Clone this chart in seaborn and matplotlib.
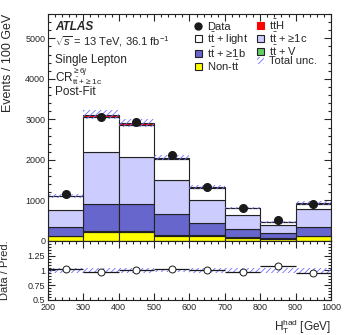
import numpy as np
import pandas as pd
import matplotlib
matplotlib.use("Agg")
import matplotlib.pyplot as plt
from matplotlib.patches import Patch
from matplotlib.lines import Line2D
from matplotlib.ticker import MultipleLocator, FixedLocator, FormatStrFormatter
import seaborn as sns

# H_T^had bins (GeV), last bin includes overflow
bin_edges = [200, 300, 400, 500, 600, 700, 800, 900, 1000]

# post-fit yields per process
non_tt = [120, 210, 225, 130, 130, 80, 60, 120]
tt_v = [15, 25, 25, 20, 15, 10, 6, 12]
tt_1b = [218, 668, 654, 507, 306, 198, 123, 221]
tt_1c = [410, 1297, 1173, 837, 559, 352, 197, 435]
tt_light = [337, 871, 789, 528, 300, 168, 82, 133]
tt_h = [15, 40, 40, 30, 20, 12, 8, 15]

data = [1150, 3050, 2925, 2110, 1330, 805, 510, 903]
# relative total uncertainty per bin
total_unc = [0.045, 0.035, 0.035, 0.03, 0.035, 0.035, 0.05, 0.045]

# bottom of the stack first
process_names = ["Non-tt", "ttV", "tt1b", "tt1c", "ttlight", "ttH"]
process_colors = {"Non-tt": "#ffff00", "ttV": "#66cc66", "tt1b": "#6666cc",
                  "tt1c": "#ccccff", "ttlight": "#ffffff", "ttH": "#ff0000"}

sns.set_theme(style="ticks")
plt.rcParams["font.family"] = ["Liberation Sans", "DejaVu Sans"]
plt.rcParams["mathtext.fontset"] = "custom"
plt.rcParams["mathtext.rm"] = "Liberation Sans"
plt.rcParams["mathtext.it"] = "Liberation Sans:italic"
plt.rcParams["mathtext.bf"] = "Liberation Sans:bold"
plt.rcParams["hatch.linewidth"] = 0.6

centers = [(a + b) / 2 for a, b in zip(bin_edges[:-1], bin_edges[1:])]
rows = []
for name, vals in zip(process_names, [non_tt, tt_v, tt_1b, tt_1c, tt_light, tt_h]):
    for c, v in zip(centers, vals):
        rows.append({"ht": c, "events": v, "process": name})
df = pd.DataFrame(rows)

total = np.array(non_tt) + np.array(tt_v) + np.array(tt_1b) + np.array(tt_1c) + np.array(tt_light) + np.array(tt_h)
data = np.array(data)
unc = np.array(total_unc)

fig = plt.figure(figsize=(3.49, 3.35), dpi=100)
ax = fig.add_axes([0.1375, 0.2806, 0.8109, 0.6776])
ax2 = fig.add_axes([0.1375, 0.1045, 0.8109, 0.1761], sharex=ax)

# stacked prediction (seaborn puts the last hue level at the bottom)
sns.histplot(data=df, x="ht", weights="events", hue="process", hue_order=process_names[::-1],
             multiple="stack", bins=bin_edges, palette=process_colors, alpha=1,
             edgecolor="#222222", linewidth=0.8, legend=False, ax=ax)

# total uncertainty band
ax.bar(centers, 2 * unc * total, bottom=total * (1 - unc), width=100, fill=False,
       hatch="//////", edgecolor="#7070ff", linewidth=0)

# data points
ax.errorbar(centers, data, yerr=np.sqrt(data), fmt="o", color="k", ms=5.5,
            capsize=0, elinewidth=0.8)

ax.set_xlim(200, 1000)
ax.set_ylim(0, 5600)
ax.set_xlabel("")
ax.set_ylabel("Events / 100 GeV", loc="top", fontsize=9)
ax.yaxis.set_label_coords(-0.12, 1.0)
ax.yaxis.set_major_locator(MultipleLocator(1000))
ax.yaxis.set_minor_locator(MultipleLocator(200))
ax.xaxis.set_major_locator(MultipleLocator(100))
ax.xaxis.set_minor_locator(MultipleLocator(20))
ax.tick_params(labelbottom=False)

# labels
ax.text(0.025, 0.943, "ATLAS", transform=ax.transAxes, fontsize=8.5,
        fontweight="bold", fontstyle="italic", va="center")
ax.text(0.025, 0.877, r"$\sqrt{s}$ = 13 TeV, 36.1 fb$^{-1}$", transform=ax.transAxes,
        fontsize=8, va="center")
ax.text(0.025, 0.797, "Single Lepton", transform=ax.transAxes, fontsize=8.5, va="center")
ax.text(0.025, 0.728, r"CR$^{\geq 6j}_{\mathrm{t\bar{t}+\geq 1c}}$", transform=ax.transAxes,
        fontsize=8.5, va="center")
ax.text(0.025, 0.658, "Post-Fit", transform=ax.transAxes, fontsize=8.5, va="center")

tt = r"$\mathrm{t\bar{t}}$"
handles = [
    Line2D([], [], marker="o", color="k", ls="none", ms=5),
    Patch(facecolor="#ffffff", edgecolor="#222222", linewidth=0.8),
    Patch(facecolor="#6666cc", edgecolor="#222222", linewidth=0.8),
    Patch(facecolor="#ffff00", edgecolor="#222222", linewidth=0.8),
    Patch(facecolor="#ff0000", edgecolor="#ff0000", linewidth=0.8),
    Patch(facecolor="#ccccff", edgecolor="#222222", linewidth=0.8),
    Patch(facecolor="#66cc66", edgecolor="#222222", linewidth=0.8),
    Patch(fill=False, hatch="//////", edgecolor="#7070ff", linewidth=0),
]
labels = ["Data", tt + " + light", tt + " + ≥1b", "Non-" + tt,
          tt + "H", tt + " + ≥1c", tt + " + V", "Total unc."]
ax.legend(handles, labels, ncol=2, loc="upper left", bbox_to_anchor=(0.519, 0.985),
          frameon=False, fontsize=8, handlelength=0.65, handleheight=0.65,
          handletextpad=0.45, columnspacing=0.8, labelspacing=-0.1, borderpad=0,
          borderaxespad=0)

# ratio panel
ratio = data / total
ratio_err = np.sqrt(data) / total
ax2.bar(centers, 2 * unc, bottom=1 - unc, width=100, fill=False,
        hatch="//////", edgecolor="#7070ff", linewidth=0)
ax2.errorbar(centers, ratio, xerr=50, yerr=ratio_err, fmt="o", mfc="white", mec="k",
             color="k", ms=5, capsize=0, elinewidth=0.9, mew=0.7)
ax2.set_ylim(0.5, 1.5)
ax2.yaxis.set_major_locator(FixedLocator([0.5, 0.75, 1.0, 1.25]))
ax2.yaxis.set_major_formatter(FormatStrFormatter("%g"))
ax2.yaxis.set_minor_locator(MultipleLocator(0.05))
ax2.set_ylabel("Data / Pred.", fontsize=8)
ax2.yaxis.set_label_coords(-0.134, 0.5)
ax2.set_xlabel(r"$\mathrm{H_T^{had}}$ [GeV]", fontsize=8.5)
ax2.xaxis.label.set_horizontalalignment("right")
ax2.xaxis.label.set_verticalalignment("baseline")
ax2.xaxis.set_label_coords(1.0, -0.52)

for a in (ax, ax2):
    a.tick_params(which="both", direction="in", top=True, right=True, labelsize=6.5,
                  width=0.8, pad=2)
    a.tick_params(which="major", length=5)
    a.tick_params(which="minor", length=2.5)
    for s in a.spines.values():
        s.set_linewidth(0.8)
        s.set_color("#222222")

fig.savefig("out.png", dpi=100)
